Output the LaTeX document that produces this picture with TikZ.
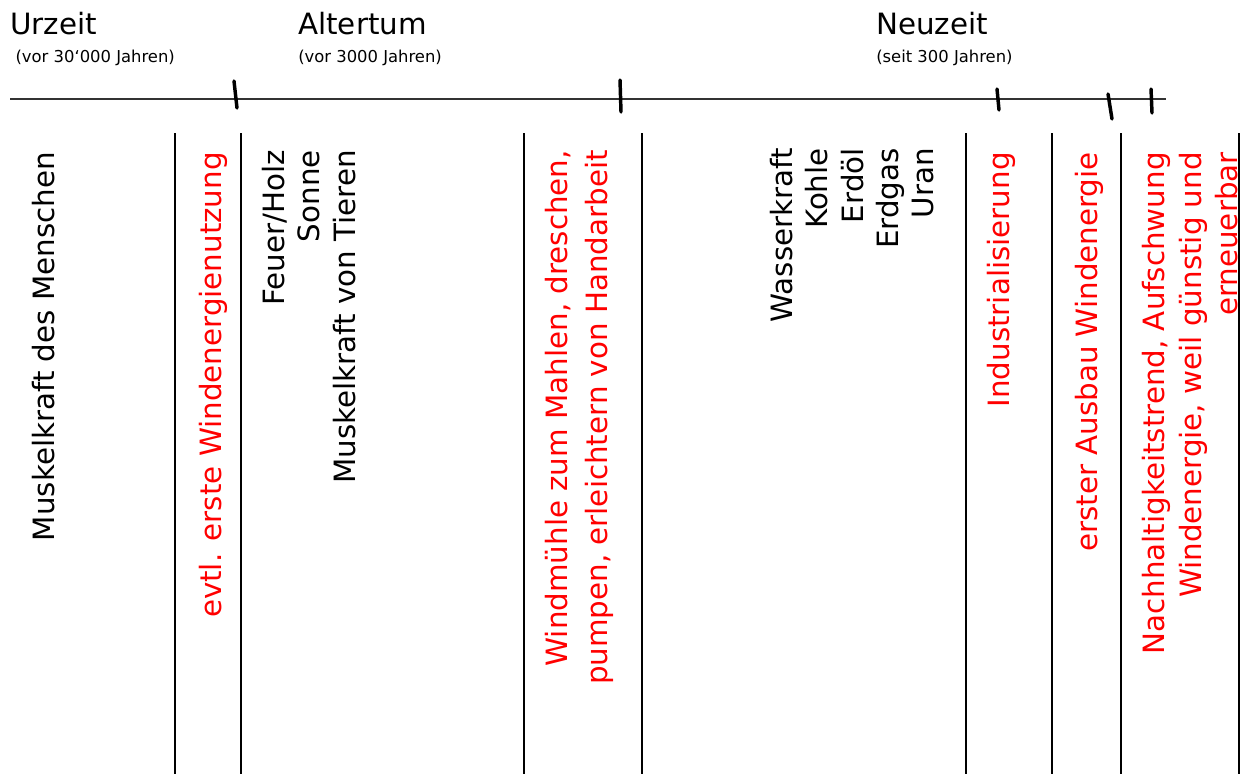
\documentclass[tikz,border=0pt]{standalone}
\usepackage{fontspec}
\setmainfont{DejaVu Sans}
\usepackage{tikz}
\usetikzlibrary{positioning}

\begin{document}
\begin{tikzpicture}[
	x = 0.75pt, y = -0.75pt, % pixel grid, y pointing down
	H/.style={anchor=north west, inner sep=0pt, font=\fontsize{22}{26}\selectfont},  % period header
	S/.style={anchor=north west, inner sep=0pt, font=\fontsize{12.3}{14}\selectfont},  % period date
	V/.style={anchor=north east, rotate=90, inner sep=0pt, align=right, font=\fontsize{22}{26.5}\selectfont}, % upright column text
	R/.style={V, text=red},                  % wind energy events
	D/.style={line width=1.9pt},             % column divider
	T/.style={line width=2.6pt, line cap=round}, % hand drawn tick
	]

	\useasboundingbox (0,0) rectangle (1244,774);

	% Periods and their dates
	\node[H] (Ur)  at (10,12)  {Urzeit};
	\node[H] (Alt) at (298,12) {Altertum};
	\node[H] (Neu) at (876,12) {Neuzeit};
	\node[S] (UrS)  [below = 11pt of Ur.south west, anchor=north west, xshift=4pt] {(vor 30‘000 Jahren)};
	\node[S] (AltS) [below = 11pt of Alt.south west, anchor=north west] {(vor 3000 Jahren)};
	\node[S] (NeuS) [below = 11pt of Neu.south west, anchor=north west] {(seit 300 Jahren)};

	% Time line with ticks
	\coordinate (t0) at (10,99);
	\coordinate (t1) at (1166,99);
	\draw[line width=0.9pt, black!80] (t0) -- (t1);
	\draw[T] (234,81) -- (237,108);
	\draw[T] (620,80) -- (621,112);
	\draw[T] (997,89) -- (999,110);
	\draw[T] (1108,94) -- (1112,119);
	\draw[T] (1151,89) -- (1152,113);

	% Column dividers
	\foreach \x in {175,241,524,642,966,1052,1121,1239}
		\draw[D] (\x,133) -- (\x,774);

	% Column texts
	\node[V] (Mus)  at (32,152)  {Muskelkraft des Menschen};
	\node[R] (Evt)  at (199,152) {evtl. erste Windenergienutzung};
	\node[V] (Feu)  at (262,150) {Feuer/Holz\\Sonne\\Muskelkraft von Tieren};
	\node[R, font=\fontsize{22}{30}\selectfont] (Mill) at (545,150) {Windmühle zum Mahlen, dreschen,\\pumpen, erleichtern von Handarbeit};
	\node[V] (Was)  at (770,148) {Wasserkraft\\Kohle\\Erdöl\\Erdgas\\Uran};
	\node[R] (Ind)  at (987,152) {Industrialisierung};
	\node[R] (Aus)  at (1075,152) {erster Ausbau Windenergie};
	\node[R, font=\fontsize{22}{27.5}\selectfont] (Nach) at (1142,152) {Nachhaltigkeitstrend, Aufschwung\\Windenergie, weil günstig und\\erneuerbar};

\end{tikzpicture}
\end{document}
